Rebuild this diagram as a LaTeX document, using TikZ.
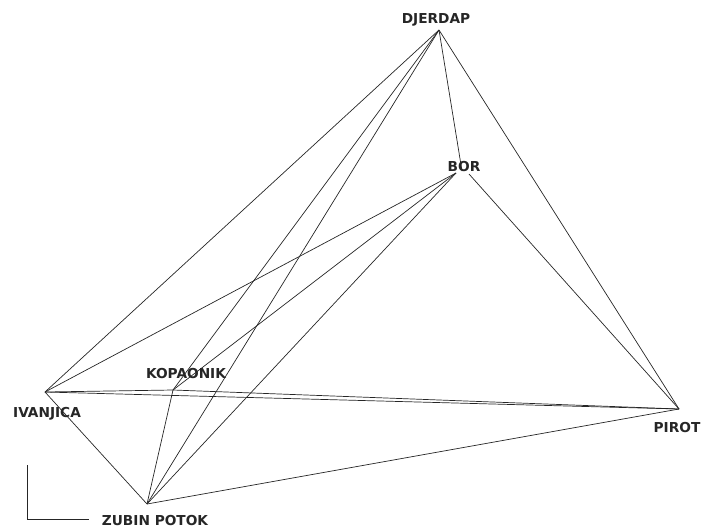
\documentclass[tikz,border=0pt]{standalone}
\usepackage{fontspec}
\setmainfont{DejaVu Sans}
\begin{document}
\begin{tikzpicture}[x=1pt,y=-1pt,
  edge/.style={draw=black!85,line width=0.7pt},
  lbl/.style={font=\fontsize{13.7}{16}\selectfont\bfseries,text=black!85,inner sep=0pt,anchor=base}]
\useasboundingbox (0,0) rectangle (704,531);
% vertices
\coordinate (D) at (439,30);
\coordinate (B) at (456,173);
\coordinate (BT) at (462,171);
\coordinate (BR) at (469,174);
\coordinate (K) at (173,390);
\coordinate (I) at (45,392);
\coordinate (P) at (679,409);
\coordinate (Z) at (147,504);
% edges (complete graph)
\draw[edge] (D) -- (BT);
\draw[edge] (D) -- (P);
\draw[edge] (D) -- (I);
\draw[edge] (D) -- (K);
\draw[edge] (D) -- (Z);
\draw[edge] (BR) -- (P);
\draw[edge] (B) -- (I);
\draw[edge] (B) -- (K);
\draw[edge] (B) -- (Z);
\draw[edge] (I) -- (P);
\draw[edge] (I) -- (K);
\draw[edge] (K) -- (P);
\draw[edge] (I) -- (Z);
\draw[edge] (K) -- (Z);
\draw[edge] (Z) -- (P);
% labels
\node[lbl] (lD) at (436,23) {DJERDAP};
\node[lbl] (lB) at (464,171) {BOR};
\node[lbl] (lK) at (186,378) {KOPAONIK};
\node[lbl] (lI) at (47,417) {IVANJICA};
\node[lbl] (lP) at (677,432) {PIROT};
\node[lbl] (lZ) at (155,525) {ZUBIN POTOK};
% corner mark
\draw[edge] (27,465) -- (27,519) -- (89,519);
\end{tikzpicture}
\end{document}
